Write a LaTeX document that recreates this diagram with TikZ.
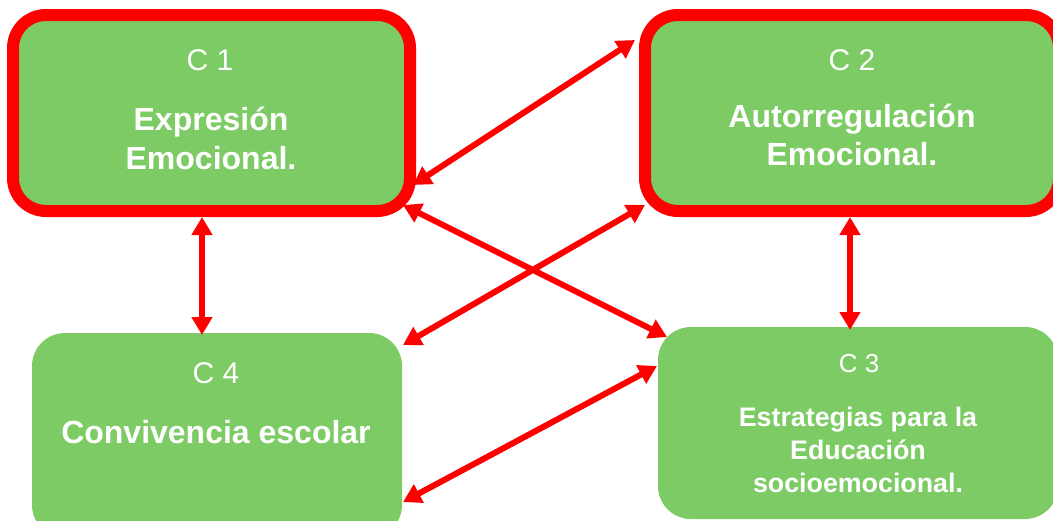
\documentclass[tikz,border=0pt]{standalone}
\usepackage{fontspec}
\setmainfont{Liberation Sans}
\usetikzlibrary{arrows.meta}

\definecolor{boxgreen}{RGB}{125,203,100}
\definecolor{linkred}{RGB}{255,0,0}

\tikzset{
  card/.style={rectangle, fill=boxgreen, rounded corners=33pt, inner sep=0pt, outer sep=0pt},
  framed/.style={card, draw=linkred, line width=12pt},
  plain/.style={card},
  code/.style={anchor=base, text=white, inner sep=0pt, font=\fontsize{30}{36}\selectfont},
  title/.style={anchor=base, text=white, inner sep=0pt, font=\fontsize{32}{38}\selectfont\bfseries},
  smallcode/.style={anchor=base, text=white, inner sep=0pt, font=\fontsize{26}{32}\selectfont},
  smalltitle/.style={anchor=base, text=white, inner sep=0pt, font=\fontsize{26.8}{32}\selectfont\bfseries},
  link/.style={draw=linkred, line width=6pt,
    {Triangle[length=18pt,width=20pt]}-{Triangle[length=18pt,width=20pt]}}
}

\begin{document}
\begin{tikzpicture}[x=1pt,y=-1pt]
\clip (0,0) rectangle (1053,520);
\fill[white] (0,0) rectangle (1053,520);

% the four competency cards
\node[framed, minimum width=397pt, minimum height=196pt] (c1) at (211.5,113) {};
\node[framed, minimum width=414pt, minimum height=196pt] (c2) at (852,113) {};
\node[plain, minimum width=370pt, minimum height=205pt] (c4) at (217,435.5) {};
\node[plain, minimum width=400pt, minimum height=192pt] (c3) at (858,423) {};

% card texts
\node[code]  (c1code) at (210,70)  {C 1};
\node[title] (c1a)    at (211,130) {Expresión};
\node[title] (c1b)    at (211,169) {Emocional.};

\node[code]  (c2code) at (852,70)  {C 2};
\node[title] (c2a)    at (852,127) {Autorregulación};
\node[title] (c2b)    at (852,165) {Emocional.};

\node[code]  (c4code) at (216,383) {C 4};
\node[title] (c4a)    at (216,443) {Convivencia escolar};

\node[smallcode]  (c3code) at (859,372) {C 3};
\node[smalltitle] (c3a)    at (858,426) {Estrategias para la};
\node[smalltitle] (c3b)    at (858,459) {Educación};
\node[smalltitle] (c3c)    at (858,492) {socioemocional.};

% two-way links between the cards
\draw[link] ([shift={(3,72)}]c1.east) -- ([shift={(-10,-73)}]c2.west);
\draw[link] ([shift={(-7,-6)}]c1.south east) -- ([shift={(9,10)}]c3.north west);
\draw[link] ([shift={(1,12)}]c4.north east) -- ([shift={(0,-6)}]c2.south west);
\draw[link] ([shift={(1,66.5)}]c4.east) -- ([shift={(-1,-57)}]c3.west);
\draw[link] ([shift={(-9.5,6)}]c1.south) -- ([shift={(-15,2)}]c4.north);
\draw[link] ([shift={(-2,6)}]c2.south) -- ([shift={(-8,3)}]c3.north);
\end{tikzpicture}
\end{document}
